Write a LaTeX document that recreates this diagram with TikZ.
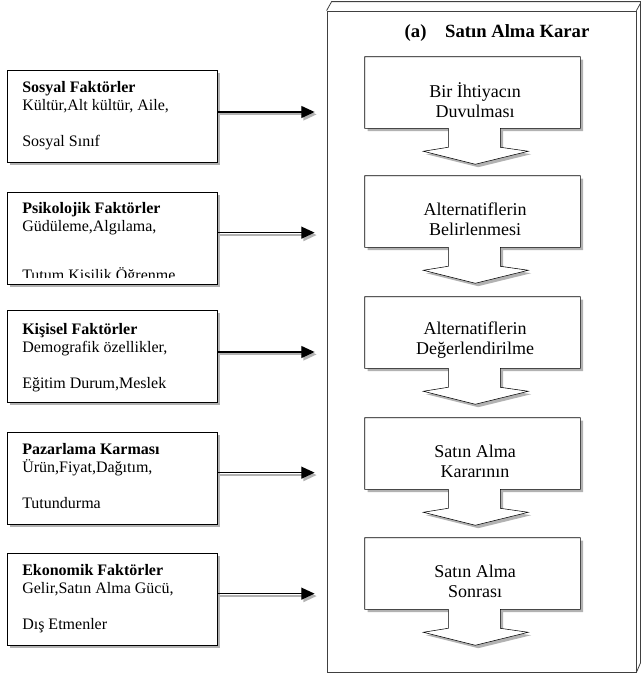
\documentclass[tikz,border=0pt]{standalone}
\usepackage{fontspec}
\setmainfont{Liberation Serif}
\usepackage{tikz}
\usetikzlibrary{shapes,arrows.meta,shadows}
\tikzset{
  factor/.style={ draw, fill=white, minimum width=157.5pt, minimum height=69pt,
    drop shadow={shadow xshift=2.2pt, shadow yshift=-2.2pt, fill=gray!60, opacity=1} }
}
\tikzset{
  factortext/.style={ anchor=north west, inner sep=0pt, align=left,
    font=\fontsize{12}{13.5}\selectfont }
}
\tikzset{
  stepbox/.style={ minimum width=161.25pt, minimum height=53.25pt, inner sep=0pt }
}
\tikzset{
  stepshape/.style={ draw, fill=white, line join=miter,
    drop shadow={shadow xshift=2.2pt, shadow yshift=-2.2pt, fill=gray!60, opacity=1} }
}
\tikzset{
  steptext/.style={ align=center, inner sep=0pt, font=\fontsize{13.5}{15}\selectfont }
}
\tikzset{
  factorarrow/.style={ -{Triangle[length=10pt,width=9pt]}, line width=1pt, shorten >=9pt,
    preaction={draw=gray!60, line width=1.4pt, transform canvas={xshift=1.5pt, yshift=-1.8pt}} }
}
\tikzset{
  frame/.style={ draw=black!75, line width=0.6pt, minimum width=231.75pt, minimum height=495.75pt }
}

\begin{document}
\begin{tikzpicture}[x=0.75pt, y=-0.75pt]
  \useasboundingbox (0,0) rectangle (641,678);
  % frame round the decision steps
  \node[frame] (frame) at (481.5,341.5) {};
  \draw[draw=black!75, line width=0.6pt] (frame.north west) -- ++(5,-9) -- ++(309,0)
    -- ++(0,661) -- (frame.south east);
  \draw[draw=black!75, line width=0.6pt] (frame.north east) -- ++(5,-9);
  \node[font=\fontsize{14}{16}\selectfont\bfseries] (title) at (497,33) {(a)\hspace{14pt}Satın Alma Karar};

  % decision steps
  \node[stepbox] (s1) at (472.5,92.5) {};
  \node[stepbox] (s2) at (472.5,211.5) {};
  \node[stepbox] (s3) at (472.5,332.5) {};
  \node[stepbox] (s4) at (472.5,453.5) {};
  \node[stepbox] (s5) at (472.5,573.5) {};
  \draw[stepshape] (s1.north west) -- (s1.north east) -- (s1.south east) -- ++(-80,0) -- ++(0,19)
    -- ++(28,4) -- ++(-53,13) -- ++(-52,-13) -- ++(25,-4) -- ++(0,-19) -- (s1.south west) -- cycle;
  \draw[stepshape] (s2.north west) -- (s2.north east) -- (s2.south east) -- ++(-80,0) -- ++(0,19)
    -- ++(28,4) -- ++(-53,13) -- ++(-52,-13) -- ++(25,-4) -- ++(0,-19) -- (s2.south west) -- cycle;
  \draw[stepshape] (s3.north west) -- (s3.north east) -- (s3.south east) -- ++(-80,0) -- ++(0,19)
    -- ++(28,4) -- ++(-53,13) -- ++(-52,-13) -- ++(25,-4) -- ++(0,-19) -- (s3.south west) -- cycle;
  \draw[stepshape] (s4.north west) -- (s4.north east) -- (s4.south east) -- ++(-80,0) -- ++(0,19)
    -- ++(28,4) -- ++(-53,13) -- ++(-52,-13) -- ++(25,-4) -- ++(0,-19) -- (s4.south west) -- cycle;
  \draw[stepshape] (s5.north west) -- (s5.north east) -- (s5.south east) -- ++(-80,0) -- ++(0,19)
    -- ++(28,4) -- ++(-53,13) -- ++(-52,-13) -- ++(25,-4) -- ++(0,-19) -- (s5.south west) -- cycle;
  \node[steptext] (l1) at (475,100) {Bir İhtiyacın\\Duvulması};
  \node[steptext] (l2) at (475,219) {Alternatiflerin\\Belirlenmesi};
  \node[steptext] (l3) at (475,340) {Alternatiflerin\\Değerlendirilme};
  \node[steptext] (l4) at (475,461) {Satın Alma\\Kararının};
  \node[steptext] (l5) at (475,581) {Satın Alma\\Sonrası};

  % factors
  \node[factor] (f1) at (112,116) {};
  \node[factor] (f2) at (112,238) {};
  \node[factor] (f3) at (112,356) {};
  \node[factor] (f4) at (112,478) {};
  \node[factor] (f5) at (112,599) {};
  \node[factortext] (t1) at (22,81) {\textbf{Sosyal Faktörler}\\Kültür,Alt kültür, Aile,\\[13.5pt]Sosyal Sınıf};
  \begin{scope}
    \clip (8,192) rectangle (216,277);
    \node[factortext] (t2) at (22,202) {\textbf{Psikolojik Faktörler}\\Güdüleme,Algılama,\\[23pt]Tutum Kişilik Öğrenme};
  \end{scope}
  \node[factortext] (t3) at (22,323) {\textbf{Kişisel Faktörler}\\Demografik özellikler,\\[13.5pt]Eğitim Durum,Meslek};
  \node[factortext] (t4) at (22,443) {\textbf{Pazarlama Karması}\\Ürün,Fiyat,Dağıtım,\\[13.5pt]Tutundurma};
  \node[factortext] (t5) at (22,564) {\textbf{Ekonomik Faktörler}\\Gelir,Satın Alma Gücü,\\[13.5pt]Dış Etmenler};

  \draw[factorarrow] ([yshift=3pt]f1.east) -- ([yshift=3pt]f1.east -| frame.west);
  \draw[factorarrow] ([yshift=4pt]f2.east) -- ([yshift=4pt]f2.east -| frame.west);
  \draw[factorarrow] ([yshift=3pt]f3.east) -- ([yshift=3pt]f3.east -| frame.west);
  \draw[factorarrow] ([yshift=4pt]f4.east) -- ([yshift=4pt]f4.east -| frame.west);
  \draw[factorarrow] ([yshift=4pt]f5.east) -- ([yshift=4pt]f5.east -| frame.west);
\end{tikzpicture}
\end{document}
